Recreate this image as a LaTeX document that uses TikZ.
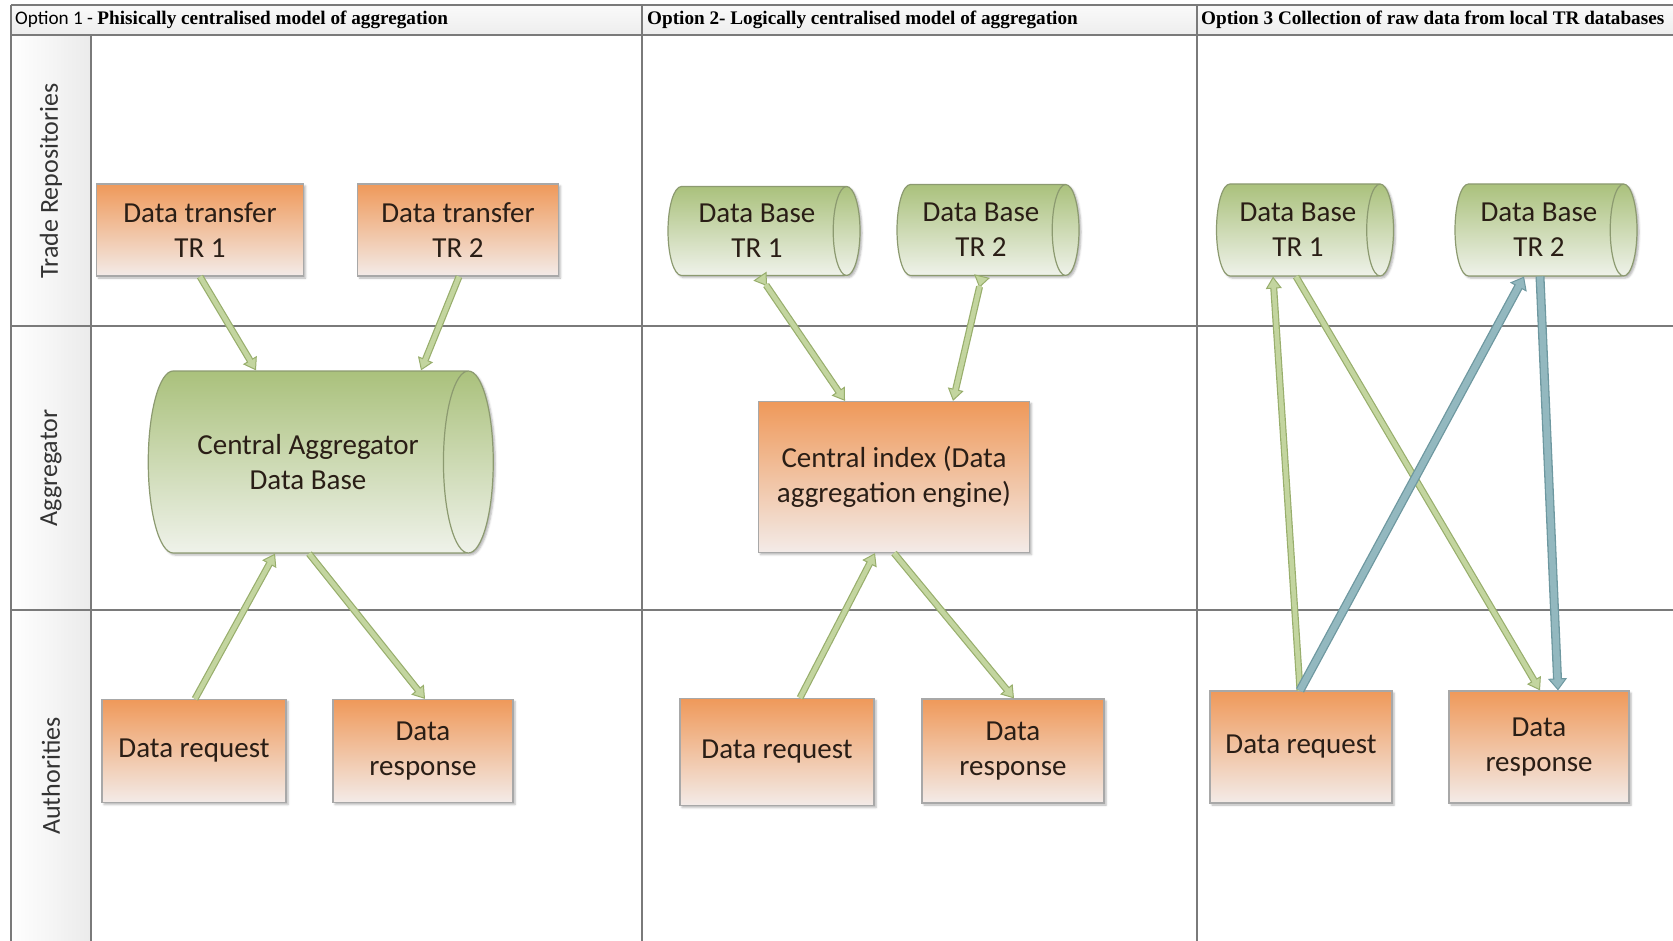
\documentclass[tikz,border=0pt]{standalone}
\usepackage{fontspec}
\setmainfont{Carlito}
\newfontfamily\headserif{Liberation Serif}
\usetikzlibrary{shapes.geometric,arrows.meta,shadows.blur,calc}
\definecolor{gridLine}{HTML}{7A7A7A}
\definecolor{boxTop}{HTML}{EF995A}
\definecolor{boxBot}{HTML}{F3EBE8}
\definecolor{boxEdge}{HTML}{A8A8A8}
\definecolor{storeTop}{HTML}{AAC17C}
\definecolor{storeBot}{HTML}{EFF2EA}
\definecolor{storeEdge}{HTML}{8C9A70}
\definecolor{txtDark}{HTML}{2A1E16}
\definecolor{flowFill}{HTML}{C3D59F}
\definecolor{flowEdge}{HTML}{98AE6C}
\definecolor{blueFill}{HTML}{93B8BF}
\definecolor{blueEdge}{HTML}{6E98A0}

\begin{document}
\begin{tikzpicture}[
  x=1pt,y=-1pt,
  font=\fontsize{29}{35}\selectfont,
  >={Triangle[length=12pt,width=16pt,line width=1pt]},
  grid/.style={draw=gridLine,line width=1.8pt},
  head/.style={anchor=west,inner sep=0pt,font=\fontsize{19.2}{22}\selectfont},
  lane/.style={rotate=90,text=black!80,font=\fontsize{26}{30}\selectfont},
  box/.style={draw=boxEdge,line width=1.2pt,top color=boxTop,bottom color=boxBot,
              text=txtDark,align=center,inner sep=2pt,
              blur shadow={shadow xshift=2pt,shadow yshift=-2pt,shadow blur radius=2pt,shadow opacity=30}},
  store/.style={cylinder,shape border rotate=0,aspect=0.5,draw=storeEdge,line width=1.2pt,
                top color=storeTop,bottom color=storeBot,text=txtDark,align=center,inner sep=0pt,
                blur shadow={shadow xshift=2pt,shadow yshift=-2pt,shadow blur radius=2pt,shadow opacity=30}},
  flow/.style={draw=flowEdge,line width=7pt,-{>[fill=flowFill]},
               postaction={draw=flowFill,line width=4.6pt,-,shorten >=10pt}},
  dflow/.style={draw=flowEdge,line width=7pt,{>[fill=flowFill]}-{>[fill=flowFill]},
                postaction={draw=flowFill,line width=4.6pt,-,shorten >=10pt,shorten <=10pt}},
  bflow/.style={draw=blueEdge,line width=9pt,-{>[fill=blueFill,width=19pt]},
                postaction={draw=blueFill,line width=6.4pt,-,shorten >=10pt}}
]
\useasboundingbox (0,0) rectangle (1673,941);

% table background
\shade[top color=gray!4,bottom color=gray!14] (11,5) rectangle (1673,35);
\shade[left color=white,right color=gray!16] (11,35) rectangle (91,941);
\draw[grid] (11,5) -- (1673,5);
\draw[grid] (11,35) -- (1673,35);
\foreach \y in {326,610}
  \draw[grid] (11,\y) -- (1673,\y);
\draw[grid] (11,5) -- (11,941);
\draw[grid] (91,35) -- (91,941);
\foreach \x in {642,1197}
  \draw[grid] (\x,5) -- (\x,941);

% headers
\node[head] (hd1) at (15,20) {Option 1 -\ \headserif\bfseries Phisically centralised model of aggregation};
\node[head] (hd2) at (647,20) {\headserif\bfseries Option 2- Logically centralised model of aggregation};
\node[head] (hd3) at (1201,20) {\headserif\bfseries Option 3 Collection of raw data from local TR databases};

% lanes
\node[lane] (laneTR)   at (51,181) {Trade Repositories};
\node[lane] (laneAgg)  at (51,468) {Aggregator};
\node[lane] (laneAuth) at (51,776) {Authorities};

% option 1
\node[box,minimum width=207pt,minimum height=92pt] (tr1) at (200,230) {Data transfer\\TR 1};
\node[box,minimum width=201pt,minimum height=92pt] (tr2) at (458,230) {Data transfer\\TR 2};
\node[store,aspect=0.9,minimum width=182pt,minimum height=345pt] (agg) at (308,462) {Central Aggregator\\Data Base};
\node[box,minimum width=184pt,minimum height=103pt] (req1) at (194,751) {Data request};
\node[box,minimum width=180pt,minimum height=103pt] (resp1) at (423,751) {Data\\response};

\draw[flow] (tr1.south) -- ([xshift=-52pt]agg.north);
\draw[flow] ([xshift=1pt]tr2.south) -- ([xshift=113pt]agg.north);
\draw[flow] ([xshift=1pt]req1.north) -- ([xshift=-33pt]agg.south);
\draw[flow] ([xshift=1pt]agg.south) -- ([xshift=2pt]resp1.north);

% option 2
\node[store,minimum width=89pt,minimum height=192pt] (db1) at (757,231) {Data Base\\TR 1};
\node[store,minimum width=91pt,minimum height=182pt] (db2) at (981,230) {Data Base\\TR 2};
\node[box,minimum width=271pt,minimum height=151pt] (idx) at (894,477) {Central index (Data\\aggregation engine)};
\node[box,minimum width=194pt,minimum height=107pt] (req2) at (777,752) {Data request};
\node[box,minimum width=182pt,minimum height=104pt] (resp2) at (1013,751) {Data\\response};

\draw[dflow] ([xshift=3pt]db1.south) -- ([xshift=-49pt]idx.north);
\draw[dflow] ([xshift=1pt]db2.south) -- ([xshift=59pt]idx.north);
\draw[flow] ([xshift=23pt]req2.north) -- ([xshift=-19pt]idx.south);
\draw[flow] (idx.south) -- ([xshift=1pt]resp2.north);

% option 3
\node[store,minimum width=92pt,minimum height=177pt] (db3) at (1298,230) {Data Base\\TR 1};
\node[store,minimum width=92pt,minimum height=182pt] (db4) at (1539,230) {Data Base\\TR 2};
\node[box,minimum width=182pt,minimum height=112pt] (req3) at (1301,747) {Data request};
\node[box,minimum width=180pt,minimum height=112pt] (resp3) at (1539,747) {Data\\response};

\draw[flow] ([xshift=-1pt]req3.north) -- ([xshift=-25pt]db3.south);
\draw[flow] ([xshift=-2pt]db3.south) -- ([xshift=1pt]resp3.north);
\draw[bflow] ([xshift=-1pt]req3.north) -- ([xshift=-15pt]db4.south);
\draw[bflow] ([xshift=1pt]db4.south) -- ([xshift=19pt]resp3.north);
\end{tikzpicture}
\end{document}
